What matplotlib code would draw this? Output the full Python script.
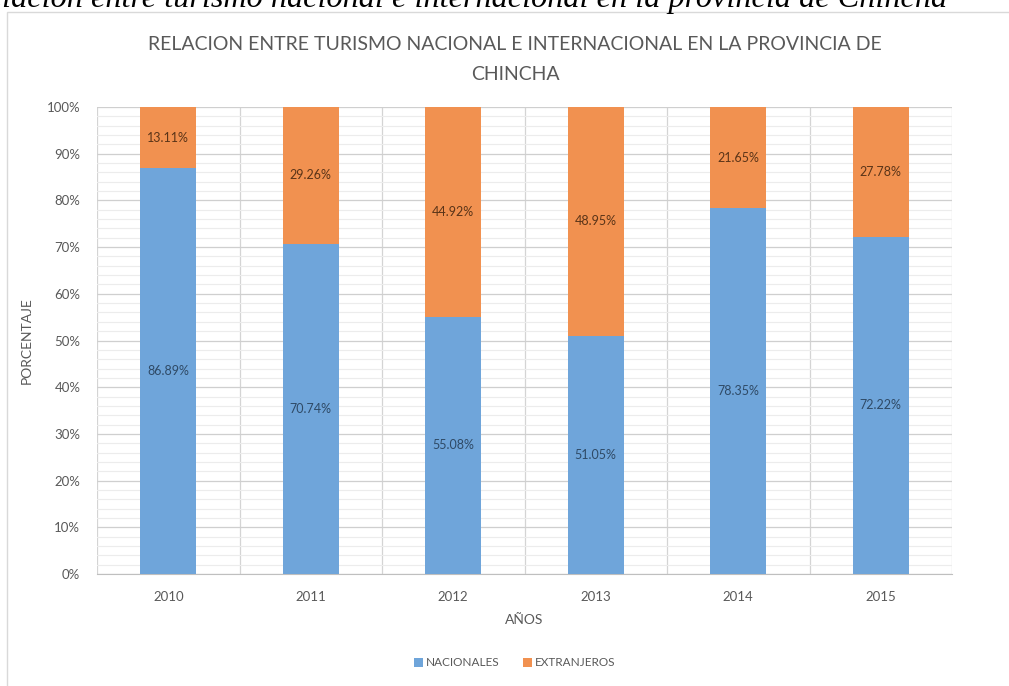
import matplotlib.pyplot as plt
import numpy as np
from matplotlib.patches import Rectangle
from matplotlib.ticker import MultipleLocator, FuncFormatter

anios = ["2010", "2011", "2012", "2013", "2014", "2015"]
nacionales = [86.89, 70.74, 55.08, 51.05, 78.35, 72.22]
extranjeros = [13.11, 29.26, 44.92, 48.95, 21.65, 27.78]

azul = "#6fa5da"
naranja = "#f19150"
texto = "#595959"

plt.rcParams["font.family"] = ["Lato", "DejaVu Sans"]

fig = plt.figure(figsize=(10.09, 6.86), dpi=100)
W, H = 1009, 686

# caja del grafico (solo se ven borde izquierdo y superior)
fig.patches.append(Rectangle((7 / W, -0.05), 1.1, 1 - 12 / H + 0.05, transform=fig.transFigure,
                             fill=False, edgecolor="#d9d9d9", linewidth=1.0))

# texto del documento, cortado arriba como en la captura
fig.text(947 / W, 1 - 7.5 / H, "Relación entre turismo nacional e internacional en la provincia de Chincha",
         ha="right", va="baseline", fontsize=23.2, style="italic", family="Liberation Serif", color="black")

ax = fig.add_axes([97 / W, 1 - 574 / H, (952 - 97) / W, (574 - 107) / H])

x = np.arange(len(anios))
ancho = 0.39
ax.bar(x, nacionales, ancho, color=azul, label="NACIONALES", zorder=3)
ax.bar(x, extranjeros, ancho, bottom=nacionales, color=naranja, label="EXTRANJEROS", zorder=3)

for i in range(len(anios)):
    ax.text(x[i], nacionales[i] / 2, f"{nacionales[i]:.2f}%", ha="center", va="center",
            fontsize=9, color="#2f4a66", zorder=4)
    ax.text(x[i], nacionales[i] + extranjeros[i] / 2, f"{extranjeros[i]:.2f}%", ha="center",
            va="center", fontsize=9, color="#5a3418", zorder=4)

ax.set_xlim(-0.5, len(anios) - 0.5)
ax.set_ylim(0, 100)
ax.yaxis.set_major_locator(MultipleLocator(10))
ax.yaxis.set_minor_locator(MultipleLocator(2))
ax.yaxis.set_major_formatter(FuncFormatter(lambda v, p: f"{v:.0f}%"))
ax.set_xticks(x)
ax.set_xticklabels(anios)
ax.set_xticks(np.arange(-0.5, len(anios)), minor=True)

ax.grid(axis="y", which="major", color="#cfcfcf", linewidth=0.9, zorder=0)
ax.grid(axis="y", which="minor", color="#ececec", linewidth=0.8, zorder=0)
ax.grid(axis="x", which="minor", color="#d4d4d4", linewidth=0.9, zorder=0)

for s in ["top", "right", "left"]:
    ax.spines[s].set_visible(False)
ax.spines["bottom"].set_color("#bfbfbf")
ax.tick_params(which="both", length=0, colors=texto, labelsize=9.5)
ax.tick_params(axis="x", pad=12)
ax.tick_params(axis="y", pad=12)

ax.set_xlabel("AÑOS", fontsize=10, color=texto, labelpad=8)
ax.set_ylabel("PORCENTAJE", fontsize=10, color=texto, labelpad=10)

fig.text(515 / W, 1 - 45 / H, "RELACION ENTRE TURISMO NACIONAL E INTERNACIONAL EN LA PROVINCIA DE",
         ha="center", va="center", fontsize=14, color=texto)
fig.text(515 / W, 1 - 75 / H, "CHINCHA", ha="center", va="center", fontsize=14, color=texto)

fig.legend(loc="center", bbox_to_anchor=(515 / W, 1 - 663 / H), ncol=2, frameon=False,
           fontsize=8.5, labelcolor=texto, handlelength=0.7, handleheight=0.7,
           handletextpad=0.3, columnspacing=2.0)

fig.savefig("out.png", dpi=100)
